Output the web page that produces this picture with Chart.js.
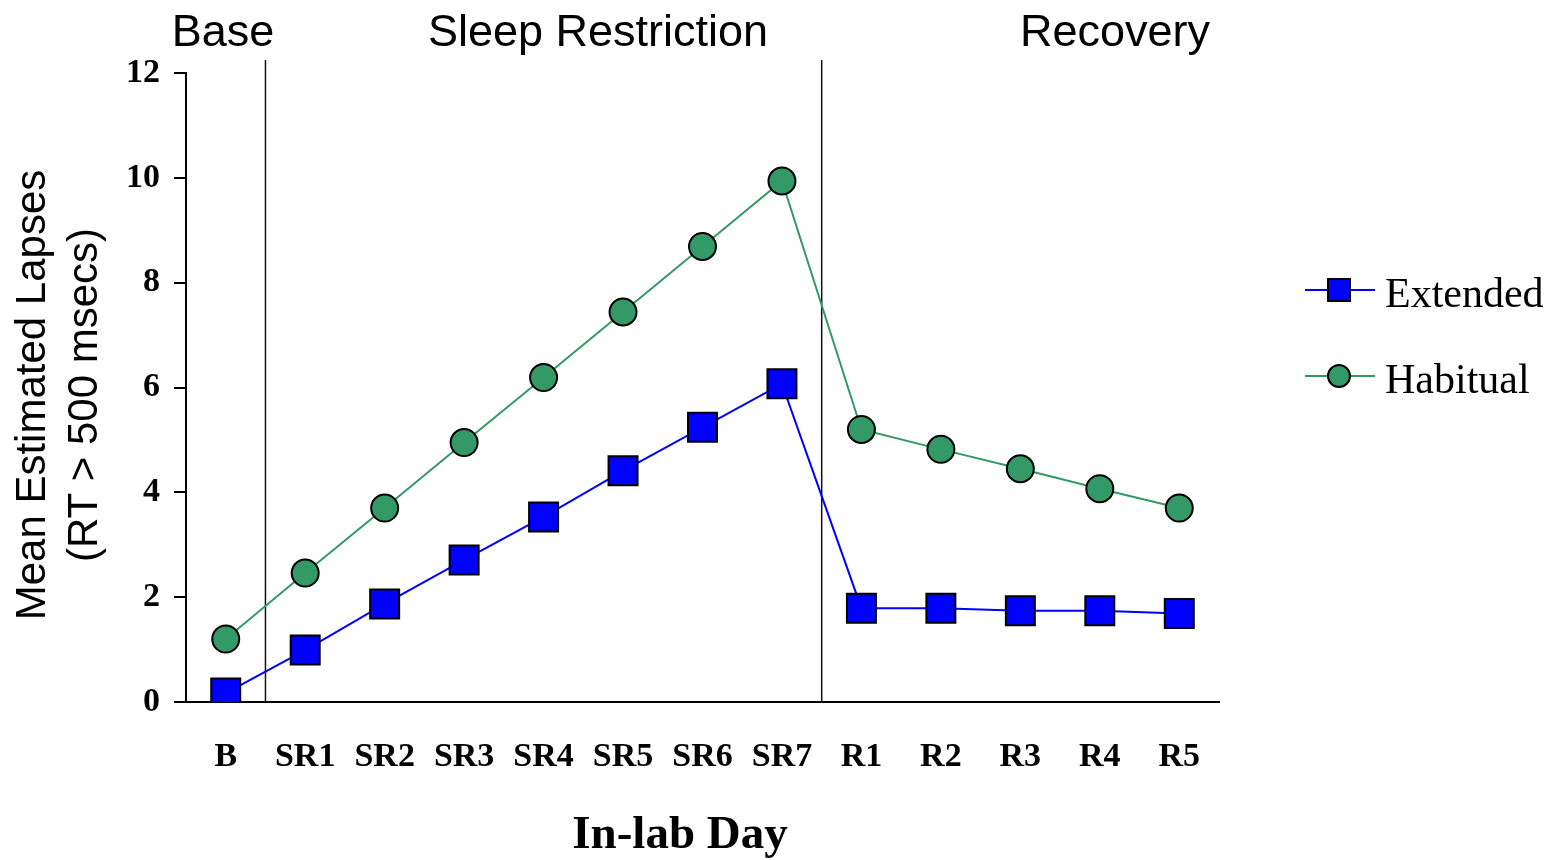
<!DOCTYPE html>
<html>
<head>
<meta charset="utf-8">
<script src="https://cdn.jsdelivr.net/npm/chart.js@4.4.0/dist/chart.umd.min.js"></script>
<style>
  html, body { margin: 0; padding: 0; background: #fff; }
  #wrap { width: 1561px; height: 860px; }
</style>
</head>
<body>
<div id="wrap"><canvas id="lapses" width="1561" height="860"></canvas></div>
<script>
// datos
var days = ['B', 'SR1', 'SR2', 'SR3', 'SR4', 'SR5', 'SR6', 'SR7', 'R1', 'R2', 'R3', 'R4', 'R5'];
var extended = [0.17, 0.99, 1.87, 2.71, 3.53, 4.41, 5.24, 6.07, 1.79, 1.79, 1.74, 1.74, 1.69];
var habitual = [1.20, 2.46, 3.70, 4.95, 6.19, 7.44, 8.69, 9.94, 5.20, 4.82, 4.45, 4.07, 3.70];
var yTicks = [0, 2, 4, 6, 8, 10, 12];
// fases: nombre y primer dia
var phaseNames = ['Base', 'Sleep Restriction', 'Recovery'];
var phaseStart = [0, 1, 8];

var sans = '"Liberation Sans", Arial, sans-serif';
var serif = '"Liberation Serif", "Times New Roman", serif';

// fases, separadores, titulos de ejes y leyenda
var extras = {
    id: 'extras',
    beforeDatasetsDraw: function(chart) {
        var c = chart.ctx, x = chart.scales.x, a = chart.chartArea;
        c.save();
        c.strokeStyle = '#111';
        c.lineWidth = 1.5;
        for (var i = 1; i < phaseStart.length; i++) {
            var px = (x.getPixelForValue(phaseStart[i] - 1) + x.getPixelForValue(phaseStart[i])) / 2;
            c.beginPath();
            c.moveTo(px, 60);
            c.lineTo(px, a.bottom);
            c.stroke();
        }
        c.restore();
    },
    afterDraw: function(chart) {
        var c = chart.ctx;
        c.save();
        c.fillStyle = '#000';
        c.textAlign = 'center';
        c.textBaseline = 'alphabetic';
        c.font = '45px ' + sans;
        var phaseX = [223, 598, 1115];
        for (var i = 0; i < phaseNames.length; i++) {
            c.fillText(phaseNames[i], phaseX[i], 46);
        }

        c.font = 'bold 47px ' + serif;
        c.textBaseline = 'middle';
        c.fillText('In-lab Day', 680, 836);

        c.save();
        c.translate(33, 395);
        c.rotate(-Math.PI / 2);
        c.font = '42px ' + sans;
        c.fillText('Mean Estimated Lapses', 0, 0);
        c.fillText('(RT > 500 msecs)', 0, 52);
        c.restore();

        // leyenda
        var rows = [290, 376];
        chart.data.datasets.forEach(function(ds, k) {
            var y = rows[k];
            c.strokeStyle = ds.borderColor;
            c.lineWidth = 2;
            c.beginPath();
            c.moveTo(1305, y);
            c.lineTo(1375, y);
            c.stroke();
            c.fillStyle = ds.pointBackgroundColor;
            c.strokeStyle = '#000';
            c.lineWidth = 2;
            c.beginPath();
            if (ds.pointStyle === 'rect') {
                c.rect(1339 - 11, y - 11, 22, 22);
            } else {
                c.arc(1339, y, 11, 0, Math.PI * 2);
            }
            c.fill();
            c.stroke();
            c.fillStyle = '#000';
            c.textAlign = 'left';
            c.textBaseline = 'middle';
            c.font = '42px ' + serif;
            c.fillText(ds.label, 1385, y + 6);
        });
        c.restore();
    }
};

var ctx = document.getElementById('lapses').getContext('2d');
var myChart = new Chart(ctx, {
    type: 'line',
    data: {
        labels: days,
        datasets: [{
            label: 'Extended',
            data: extended,
            borderColor: '#0000ff',
            borderWidth: 2,
            pointStyle: 'rect',
            pointRadius: 20.5,
            pointBackgroundColor: '#0000ff',
            pointBorderColor: '#000',
            pointBorderWidth: 2
        }, {
            label: 'Habitual',
            data: habitual,
            borderColor: '#339966',
            borderWidth: 2,
            pointStyle: 'circle',
            pointRadius: 13.5,
            pointBackgroundColor: '#339966',
            pointBorderColor: '#000',
            pointBorderWidth: 2
        }]
    },
    options: {
        responsive: false,
        animation: false,
        events: [],
        layout: {
            padding: { top: 73, right: 342, left: 0, bottom: 0 }
        },
        plugins: {
            legend: { display: false },
            title: { display: false },
            tooltip: { enabled: false }
        },
        scales: {
            x: {
                type: 'category',
                offset: true,
                grid: { display: false, drawTicks: false },
                border: { display: true, color: '#000', width: 2 },
                ticks: {
                    color: '#000',
                    padding: 35,
                    font: { family: serif, size: 34, weight: 'bold' },
                    maxRotation: 0,
                    autoSkip: false
                },
                afterFit: function(scale) { scale.height = 158; }
            },
            y: {
                min: 0,
                max: 12,
                afterBuildTicks: function(scale) {
                    scale.ticks = yTicks.map(function(v) { return { value: v }; });
                },
                grid: {
                    drawOnChartArea: false,
                    drawTicks: true,
                    tickLength: 12,
                    color: '#000',
                    lineWidth: 2
                },
                border: { display: true, color: '#000', width: 2 },
                ticks: {
                    color: '#000',
                    padding: 14,
                    font: { family: serif, size: 34, weight: 'bold' }
                },
                afterFit: function(scale) { scale.width = 186; }
            }
        }
    },
    plugins: [extras]
});
</script>
</body>
</html>
